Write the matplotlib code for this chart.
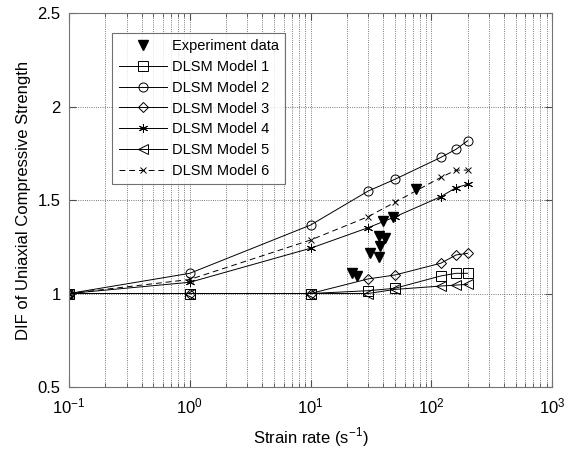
import numpy as np
import matplotlib
matplotlib.use("Agg")
import matplotlib.pyplot as plt
from matplotlib.ticker import LogLocator, NullFormatter

plt.rcParams['font.family'] = ['Liberation Sans', 'DejaVu Sans']
plt.rcParams['mathtext.fontset'] = 'custom'
plt.rcParams['mathtext.rm'] = 'Liberation Sans'

# experiment data
exp_x = [21.9, 24.4, 31.1, 37.1, 37.6, 37.1, 41.4, 40.1, 48.0, 74.8]
exp_y = [1.111, 1.094, 1.215, 1.197, 1.254, 1.307, 1.295, 1.389, 1.407, 1.559]

# strain rates of the model curves
rate = [0.1, 1, 10, 30, 50, 120, 160, 200]

m1 = [1.0, 1.0, 1.0, 1.015, 1.028, 1.094, 1.108, 1.108]
m2 = [1.0, 1.108, 1.366, 1.548, 1.611, 1.728, 1.771, 1.817]
m3 = [1.0, 1.0, 1.0, 1.078, 1.099, 1.162, 1.206, 1.215]
m4 = [1.0, 1.06, 1.242, 1.352, 1.41, 1.518, 1.566, 1.584]
m5 = [1.0, 1.0, 1.0, 1.0, 1.022, 1.04, 1.045, 1.049]
m6 = [1.0, 1.075, 1.286, 1.411, 1.488, 1.621, 1.660, 1.660]

fig = plt.figure(figsize=(5.65, 4.5), dpi=100)
ax = fig.add_axes([0.1221, 0.14, 0.855, 0.831])

ax.plot(exp_x, exp_y, 'kv', ms=7, ls='none', label='Experiment data')
mk = dict(color='k', lw=0.7, ms=6.5, mfc='none', mec='k', mew=0.7)
ax.plot(rate, m1, marker='s', label='DLSM Model 1', **mk)
ax.plot(rate, m2, marker='o', label='DLSM Model 2', **mk)
ax.plot(rate, m3, marker='D', label='DLSM Model 3', ms=5.5, color='k', lw=0.7,
        mfc='none', mec='k', mew=0.7)
ax.plot(rate, m4, marker=(6, 2, 0), label='DLSM Model 4', **mk)
ax.plot(rate, m5, marker='<', label='DLSM Model 5', **mk)
ax.plot(rate, m6, marker='x', ls=(0, (6, 4)), label='DLSM Model 6',
        color='k', lw=0.7, ms=4, mew=0.7)

ax.set_xscale('log')
ax.set_xlim(0.1, 1000)
ax.set_ylim(0.5, 2.5)
ax.set_yticks([0.5, 1, 1.5, 2, 2.5])
ax.set_yticklabels(['0.5', '1', '1.5', '2', '2.5'])
ax.xaxis.set_minor_locator(LogLocator(base=10, subs=np.arange(2, 10)))
ax.xaxis.set_minor_formatter(NullFormatter())

ax.grid(True, which='major', axis='both', ls=':', color='0.3', lw=0.6)
ax.grid(True, which='minor', axis='x', ls=':', color='0.3', lw=0.6)
ax.tick_params(which='both', direction='in', top=True, right=True,
               labelsize=12, color='0.3')
ax.tick_params(which='major', length=5)
ax.tick_params(which='minor', length=3)
ax.tick_params(axis='x', which='major', pad=7)
ax.tick_params(axis='y', which='major', pad=6)
for s in ax.spines.values():
    s.set_color('0.45')
    s.set_linewidth(0.8)

ax.set_xlabel('Strain rate (s$^{-1}$)', fontsize=12, labelpad=6)
ax.set_ylabel('DIF of Uniaxial Compressive Strength', fontsize=12, labelpad=5)

leg = ax.legend(loc='upper left', bbox_to_anchor=(0.09, 0.947), fontsize=10.5,
                handlelength=3.3, frameon=True, fancybox=False,
                borderpad=0.45, labelspacing=0.46, handletextpad=0.3,
                borderaxespad=0)
leg.get_frame().set_edgecolor('0.3')
leg.get_frame().set_linewidth(0.8)

fig.savefig('out.png', dpi=100)
